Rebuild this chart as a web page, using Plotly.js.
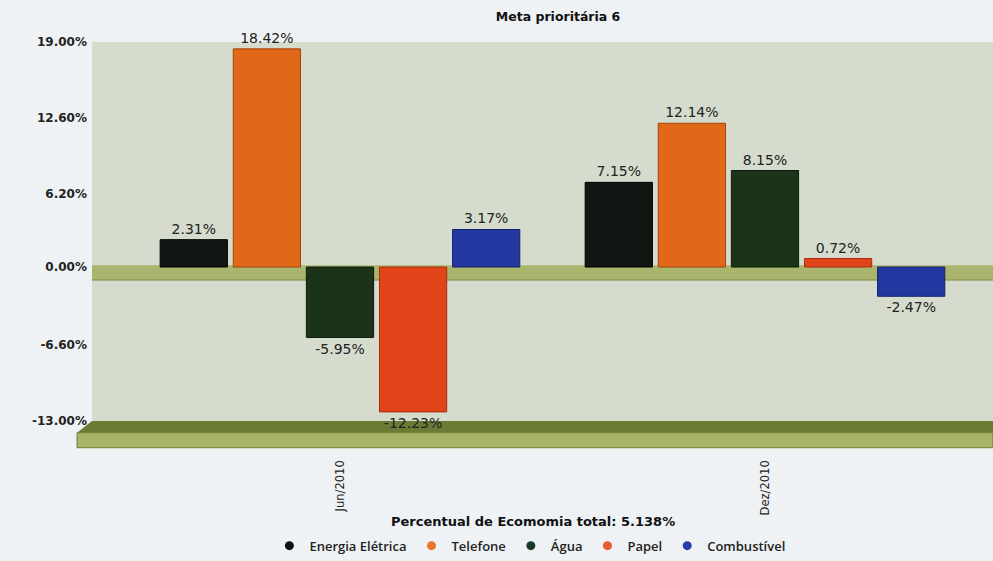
<!DOCTYPE html>
<html>
<head>
<meta charset="utf-8">
<script src="https://cdn.plot.ly/plotly-3.0.1.min.js"></script>
<style>html,body{margin:0;padding:0;background:#eef2f5;}#chart{width:993px;height:561px;}</style>
</head>
<body>
<div id="chart"></div>
<script>
const categories = ["Jun/2010", "Dez/2010"];
const seriesNames = ["Energia Elétrica", "Telefone", "Água", "Papel", "Combustível"];
const energia = [2.31, 7.15];
const telefone = [18.42, 12.14];
const agua = [-5.95, 8.15];
const papel = [-12.23, 0.72];
const combustivel = [3.17, -2.47];
const tickVals = [19, 12.6, 6.2, 0, -6.6, -13];
const tickText = ["19.00%", "12.60%", "6.20%", "0.00%", "-6.60%", "-13.00%"];
const totalText = "Percentual de Ecomomia total: 5.138%";

const seriesValues = [energia, telefone, agua, papel, combustivel];
const colors = ["#121612", "#e06818", "#1b3419", "#e04418", "#2238a0"];
const edge = ["#000000", "#a8420c", "#0c1c0c", "#a82c0c", "#14226a"];
const legendColors = ["#111111", "#e8742e", "#1a3a28", "#e85a30", "#2a3aa8"];

const barTraces = seriesNames.map((n, i) => ({
  type: "bar",
  name: n,
  x: categories,
  y: seriesValues[i],
  text: seriesValues[i].map(v => v.toFixed(2) + "%"),
  textposition: "outside",
  cliponaxis: false,
  constraintext: "none",
  textfont: {family: "DejaVu Sans, Verdana, sans-serif", size: 14, color: "#222"},
  marker: {color: colors[i], line: {color: edge[i], width: 1}},
  showlegend: false,
  hoverinfo: "x+y+name"
}));

// legend entries with round markers (no drawn points)
const legendTraces = seriesNames.map((n, i) => ({
  type: "scatter", mode: "markers", name: n,
  x: [null], y: [null],
  marker: {symbol: "circle", size: 9, color: legendColors[i]},
  showlegend: true
}));

const shapes = [
  // zero floor band
  {type: "rect", xref: "paper", yref: "y", x0: 0, x1: 1, y0: 0.15, y1: -1.1,
   fillcolor: "#a9b56c", line: {width: 0}, layer: "below"},
  {type: "line", xref: "paper", yref: "y", x0: 0, x1: 1, y0: -1.1, y1: -1.1,
   line: {color: "#7d8a45", width: 1}, layer: "below"},
  // bottom floor slab: top face
  {type: "path", xref: "paper", yref: "paper",
   path: "M 0 0 L 1 0 L 1 -0.031 L -0.0166 -0.031 Z",
   fillcolor: "#6c7b34", line: {width: 0}, layer: "below"},
  // bottom floor slab: front face
  {type: "rect", xref: "paper", yref: "paper", x0: -0.0166, x1: 1, y0: -0.031, y1: -0.0705,
   fillcolor: "#a8b46a", line: {color: "#6c7b34", width: 1}, layer: "below"}
];

const layout = {
  width: 993, height: 561,
  paper_bgcolor: "#eef2f5",
  plot_bgcolor: "#d5dccd",
  margin: {l: 92, r: 0, t: 42, b: 136},
  title: {text: "<b>Meta prioritária 6</b>", x: 0.562, xanchor: "center", y: 0.97, yanchor: "middle",
          font: {family: "DejaVu Sans, Verdana, sans-serif", size: 12.5, color: "#111"}},
  barmode: "group",
  bargap: 0.14,
  bargroupgap: 0.08,
  showlegend: true,
  legend: {orientation: "h", x: 0.486, xanchor: "center", y: -0.329, yanchor: "middle",
           font: {family: "Open Sans, DejaVu Sans, sans-serif", size: 13, color: "#222", weight: 600},
           bgcolor: "rgba(0,0,0,0)", itemwidth: 30, tracegroupgap: 0},
  xaxis: {
    range: [-0.5835, 1.5365],
    tickangle: -90,
    ticklabelstandoff: 36,
    tickfont: {family: "DejaVu Sans, Verdana, sans-serif", size: 11.5, color: "#222"},
    showgrid: false, zeroline: false, showline: false, ticks: "",
    fixedrange: true
  },
  yaxis: {
    range: [-13, 19],
    tickvals: tickVals,
    ticktext: tickText,
    ticklabelstandoff: 4,
    tickfont: {family: "DejaVu Sans, Verdana, sans-serif", size: 12, color: "#222", weight: "bold"},
    showgrid: false, zeroline: false, showline: false, ticks: "",
    fixedrange: true
  },
  shapes: shapes,
  annotations: [
    {text: "<b>" + totalText + "</b>", xref: "paper", yref: "paper", x: 0.49, y: -0.264,
     xanchor: "center", yanchor: "middle", showarrow: false,
     font: {family: "DejaVu Sans, Verdana, sans-serif", size: 13, color: "#111"}}
  ]
};

Plotly.newPlot("chart", barTraces.concat(legendTraces), layout, {displayModeBar: false, staticPlot: true});
</script>
</body>
</html>
